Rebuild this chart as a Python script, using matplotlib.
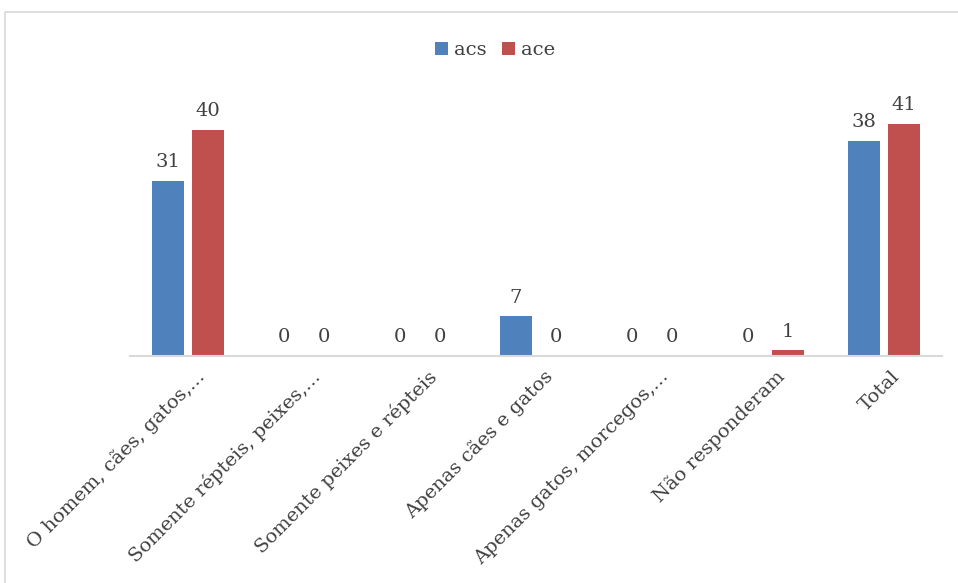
import numpy as np
import matplotlib
matplotlib.use("Agg")
import matplotlib.pyplot as plt
import matplotlib.transforms as mtransforms
from matplotlib.patches import Rectangle

categories = ["O homem, cães, gatos,...", "Somente répteis, peixes,...",
              "Somente peixes e répteis", "Apenas cães e gatos",
              "Apenas gatos, morcegos,...", "Não responderam", "Total"]
acs = [31, 0, 0, 7, 0, 0, 38]
ace = [40, 0, 0, 0, 0, 1, 41]

blue = "#4F81BD"
red = "#C0504D"
txt = "#404040"
grid = "#D9D9D9"

plt.rcParams["font.family"] = ["DejaVu Serif"]

fig = plt.figure(figsize=(9.58, 5.83), dpi=100)
ax = fig.add_axes((0.1357, 0.3894, 0.8476, 0.4854))

# outer chart frame
fig.patches.append(Rectangle((5 / 958, -0.05), 1.0, 1 - 12 / 583 + 0.05,
                             transform=fig.transFigure, fill=False,
                             edgecolor=grid, linewidth=1.2))

x = np.arange(len(categories))
w = 0.27
off = 0.172
b1 = ax.bar(x - off, acs, w, color=blue, label="acs")
b2 = ax.bar(x + off, ace, w, color=red, label="ace")

for bars, vals in ((b1, acs), (b2, ace)):
    for rect, v in zip(bars, vals):
        ax.annotate(str(v), (rect.get_x() + rect.get_width() / 2, v),
                    xytext=(0, 7), textcoords="offset points",
                    ha="center", va="bottom", fontsize=14, color=txt)

ax.set_xlim(-0.5, len(categories) - 0.5)
ax.set_ylim(0, 50)
ax.set_yticks([])
for s in ("top", "right", "left"):
    ax.spines[s].set_visible(False)
ax.spines["bottom"].set_color(grid)
ax.spines["bottom"].set_linewidth(1.5)

ax.set_xticks(x)
ax.set_xticklabels(categories, rotation=45, ha="right", va="top",
                   rotation_mode="anchor", fontsize=14, color=txt)
ax.tick_params(axis="x", length=0, pad=8)
shift = mtransforms.ScaledTranslation(7 / 100, 0, fig.dpi_scale_trans)
for lab in ax.get_xticklabels():
    lab.set_transform(lab.get_transform() + shift)

ax.legend(loc="center", bbox_to_anchor=(495 / 958, 1 - 50 / 583), bbox_transform=fig.transFigure,
          ncol=2, frameon=False, fontsize=14, handlelength=0.65, handleheight=0.65,
          handletextpad=0.3, columnspacing=0.8, labelcolor=txt)

fig.savefig("out.png", dpi=100)
